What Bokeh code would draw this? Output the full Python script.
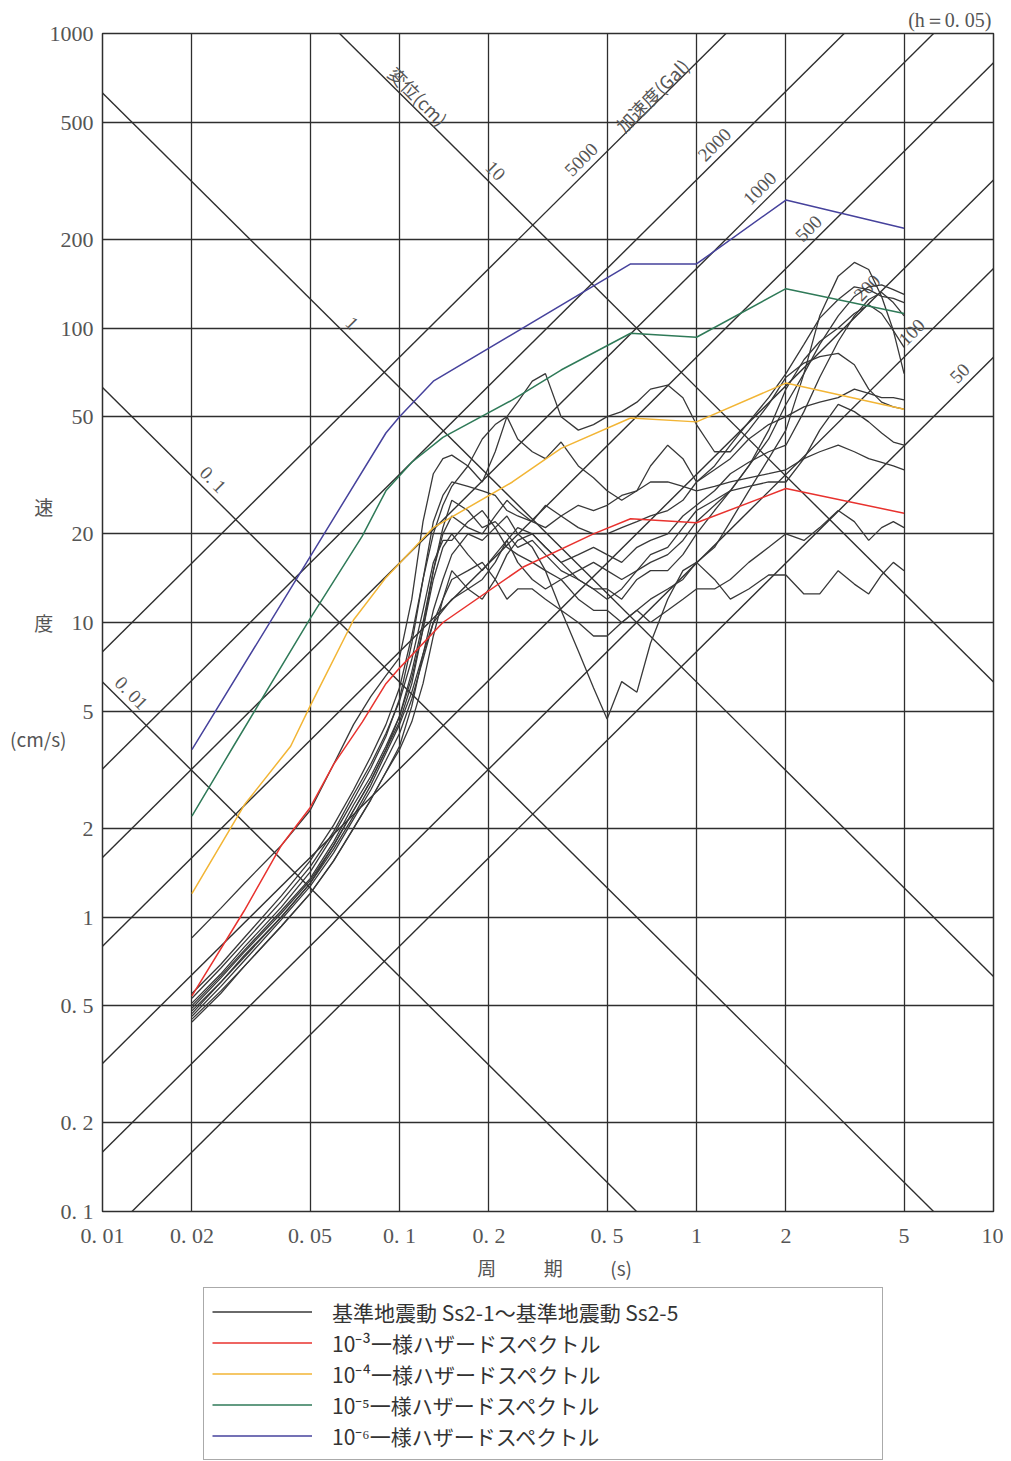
import math
from bokeh.plotting import figure
from bokeh.models import FixedTicker, Legend, LegendItem
from bokeh.layouts import column
from bokeh.embed import file_html
from bokeh.resources import INLINE
from bokeh.core.properties import value

# ---------------- axis ticks ----------------
period_ticks = [0.01, 0.02, 0.05, 0.1, 0.2, 0.5, 1, 2, 5, 10]
period_tick_labels = ["0. 01", "0. 02", "0. 05", "0. 1", "0. 2", "0. 5", "1", "2", "5", "10"]
vel_ticks = [0.1, 0.2, 0.5, 1, 2, 5, 10, 20, 50, 100, 200, 500, 1000]
vel_tick_labels = ["0. 1", "0. 2", "0. 5", "1", "2", "5", "10", "20", "50", "100", "200", "500", "1000"]

# ---------------- tripartite grid ----------------
disp_lines_cm = [0.01, 0.1, 1, 10]
disp_label_text = ["0. 01", "0. 1", "1", "10"]
disp_label_T = [0.01168, 0.0220, 0.0647, 0.1966]
acc_lines_gal = [50, 100, 200, 500, 1000, 2000, 5000]
acc_label_text = ["50", "100", "200", "500", "1000", "2000", "5000"]
acc_label_T = [8.24, 5.68, 4.02, 2.555, 1.748, 1.231, 0.438]

# ---------------- uniform hazard spectra ----------------
uhs3_T = [0.02, 0.03, 0.04, 0.05, 0.06, 0.075, 0.09, 0.1, 0.14, 0.26, 0.45, 0.6, 1.0, 2.0, 5.0]
uhs3_v = [0.54, 1.05, 1.75, 2.35, 3.3, 4.6, 6.2, 7.0, 10.0, 15.4, 20.0, 22.5, 21.8, 28.5, 23.5]
uhs4_T = [0.02, 0.03, 0.043, 0.05, 0.07, 0.09, 0.13, 0.24, 0.35, 0.6, 1.0, 2.0, 5.0]
uhs4_v = [1.2, 2.4, 3.8, 5.2, 10.2, 14.2, 21.0, 30.0, 39.0, 49.5, 48.0, 65.0, 53.0]
uhs5_T = [0.02, 0.0276, 0.05, 0.075, 0.09, 0.11, 0.14, 0.24, 0.35, 0.6, 1.0, 2.0, 5.0]
uhs5_v = [2.2, 3.8, 10.3, 19.7, 28.0, 35.0, 42.5, 57.0, 72.0, 96.0, 93.0, 136.0, 112.0]
uhs6_T = [0.02, 0.09, 0.1, 0.13, 0.6, 1.0, 2.0, 5.0]
uhs6_v = [3.7, 44.0, 50.0, 66.0, 165.0, 165.0, 272.0, 218.0]

# ---------------- design ground motions Ss2-1 .. Ss2-5 ----------------
ss_T = [0.02, 0.025, 0.03, 0.04, 0.05, 0.06, 0.07, 0.08, 0.09, 0.10,
        0.11, 0.12, 0.13, 0.14, 0.15, 0.17, 0.19, 0.21, 0.23, 0.25,
        0.28, 0.31, 0.35, 0.40, 0.45, 0.50, 0.56, 0.63, 0.70, 0.80,
        0.90, 1.0, 1.15, 1.3, 1.5, 1.75, 2.0, 2.3, 2.6, 3.0,
        3.4, 3.8, 4.2, 4.6, 5.0]
ss_h1 = [0.50, 0.63, 0.77, 1.05, 1.35, 1.8, 2.4, 3.0, 3.8, 4.8,
         6.5, 9.5, 14, 18, 20, 17, 15, 17, 19, 16,
         14, 13, 14, 12, 11, 11, 10, 11, 12, 13,
         14, 16, 18, 22, 28, 36, 45, 70, 110, 150,
         167, 158, 128, 98, 70]
ss_h2 = [0.47, 0.60, 0.73, 1.0, 1.3, 1.75, 2.3, 2.9, 3.7, 4.6,
         6.2, 9.5, 15, 21, 26, 24, 21, 22, 20, 18,
         19, 17, 15, 14, 13, 13, 12, 14, 15, 15,
         17, 20, 24, 28, 34, 42, 55, 70, 88, 110,
         128, 138, 140, 135, 130]
ss_h3 = [0.45, 0.56, 0.68, 0.93, 1.2, 1.55, 2.0, 2.5, 3.1, 3.7,
         4.6, 6.2, 9, 12, 15, 13, 12, 14, 17, 19,
         20, 18, 16, 17, 18, 17, 16, 18, 19, 20,
         23, 25, 28, 32, 35, 38, 40, 52, 68, 90,
         110, 125, 132, 122, 110]
ss_h4 = [0.53, 0.67, 0.82, 1.13, 1.48, 1.95, 2.6, 3.3, 4.2, 5.4,
         7.5, 11, 16, 19, 19, 22, 24, 21, 18, 17,
         16, 15, 14, 15, 16, 15, 14, 15, 16, 17,
         19, 22, 25, 28, 34, 45, 62, 78, 90, 100,
         112, 120, 112, 98, 86]
ss_h5 = [0.85, 1.07, 1.30, 1.75, 2.3, 3.3, 4.5, 5.6, 6.6, 7.6,
         12, 22, 32, 36, 37, 34, 30, 38, 50, 56,
         66, 70, 50, 45, 47, 50, 52, 56, 62, 64,
         58, 47, 38, 38, 45, 55, 68, 76, 80, 82,
         75, 62, 56, 54, 53]
ss_h6 = [0.49, 0.62, 0.76, 1.03, 1.33, 1.75, 2.3, 2.9, 3.7, 4.8,
         6.8, 10, 15, 20, 23, 21, 20, 23, 26, 24,
         22, 25, 23, 21, 20, 20, 21, 22, 23, 24,
         26, 30, 34, 40, 48, 58, 70, 88, 108, 125,
         138, 135, 128, 126, 122]
ss_v1 = [0.44, 0.55, 0.68, 0.93, 1.2, 1.55, 2.0, 2.5, 3.1, 3.8,
         5.2, 7.8, 11, 14, 17, 20, 19, 21, 23, 20,
         18, 15, 11, 8, 6, 4.7, 6.3, 5.8, 8.5, 12,
         15, 16, 14, 12, 13, 14.5, 14.5, 12.5, 12.5, 15,
         13.5, 12.5, 14.5, 16, 15]
ss_v2 = [0.46, 0.58, 0.71, 0.98, 1.27, 1.65, 2.15, 2.7, 3.4, 4.2,
         5.5, 7.5, 10, 12, 14, 15, 16, 14, 12, 13,
         13, 12, 11, 10, 9, 9, 10, 11, 10, 11,
         12, 13, 13, 14, 16, 18, 20, 19, 21, 24,
         22, 19, 21, 22, 21]
ss_v3 = [0.51, 0.64, 0.79, 1.08, 1.42, 1.9, 2.5, 3.2, 4.1, 5.5,
         8.5, 14, 22, 27, 30, 29, 28, 27, 24, 23,
         22, 21, 23, 25, 24, 25, 27, 28, 30, 30,
         29, 28, 29, 30, 31, 32, 33, 36, 38, 40,
         38, 36, 35, 34, 33]
ss_v4 = [0.48, 0.60, 0.74, 1.0, 1.3, 1.7, 2.2, 2.8, 3.6, 4.5,
         5.8, 7.8, 10, 11, 12, 13, 14, 16, 19, 21,
         20, 18, 16, 14, 13, 12, 13, 15, 17, 18,
         21, 24, 26, 28, 29, 30, 30, 36, 45, 55,
         52, 48, 44, 41, 40]
ss_v5 = [0.55, 0.69, 0.85, 1.18, 1.55, 2.05, 2.7, 3.5, 4.5, 6.0,
         9, 14, 20, 25, 29, 34, 42, 47, 50, 42,
         38, 36, 41, 34, 31, 28, 26, 28, 34, 40,
         36, 30, 33, 36, 42, 47, 50, 54, 56, 58,
         62, 60, 58, 58, 57]
ss_curves = [ss_h1, ss_h2, ss_h3, ss_h4, ss_h5, ss_h6, ss_v1, ss_v2, ss_v3, ss_v4, ss_v5]

legend_labels = ["基準地震動 Ss2-1～基準地震動 Ss2-5",
                 "10⁻³一様ハザードスペクトル",
                 "10⁻⁴一様ハザードスペクトル",
                 "10⁻⁵一様ハザードスペクトル",
                 "10⁻⁶一様ハザードスペクトル"]

# ---------------- styles ----------------
GRID = "#2e2e2e"
TXT = "#555555"
C_SS = "#383838"
C_R = "#e8322e"
C_O = "#f2b535"
C_G = "#2f7a58"
C_B = "#46429c"
SERIF = "Liberation Serif"
CJK = "Noto Sans CJK JP"
TWO_PI = 2 * math.pi

p = figure(width=1003, height=1287, x_axis_type="log", y_axis_type="log",
           x_range=(0.01, 10), y_range=(0.1, 1000),
           toolbar_location=None, output_backend="svg",
           min_border_left=102, min_border_right=10, min_border_top=33, min_border_bottom=76)
p.background_fill_color = "white"
p.border_fill_color = "white"
p.outline_line_color = GRID
p.outline_line_width = 1.5

p.title.text = "(h＝0. 05)"
p.title.align = "right"
p.title.offset = 2
p.title.text_font = SERIF
p.title.text_font_style = "normal"
p.title.text_font_size = "20px"
p.title.text_color = TXT
p.title.standoff = 6

p.xaxis.ticker = FixedTicker(ticks=period_ticks, minor_ticks=[])
p.yaxis.ticker = FixedTicker(ticks=vel_ticks, minor_ticks=[])
p.xaxis.major_label_overrides = {t: s for t, s in zip(period_ticks, period_tick_labels)}
p.yaxis.major_label_overrides = {t: s for t, s in zip(vel_ticks, vel_tick_labels)}
for ax in (p.xaxis, p.yaxis):
    ax.major_tick_out = 0
    ax.major_tick_in = 0
    ax.minor_tick_out = 0
    ax.minor_tick_in = 0
    ax.axis_line_color = GRID
    ax.major_label_text_font = SERIF
    ax.major_label_text_font_size = "22px"
    ax.major_label_text_color = TXT
    ax.axis_label_text_font = CJK
    ax.axis_label_text_font_style = "normal"
    ax.axis_label_text_font_size = "19px"
    ax.axis_label_text_color = TXT
p.xaxis.major_label_standoff = 11
p.yaxis.major_label_standoff = 9
p.xaxis.axis_label = "\u2002\u2009周\u3000\u3000\u2002期\u3000\u3000\u2002(s)"
p.xaxis.axis_label_standoff = 3
p.yaxis.axis_label = "速\u2002\u2009\n\n\n\n\n度\u2002\u2009\n\n\n\n\n(cm/s)"
p.yaxis.axis_label_orientation = "horizontal"
p.yaxis.axis_label_text_line_height = 0.86
p.yaxis.axis_label_standoff = -20
p.grid.grid_line_color = GRID
p.grid.grid_line_alpha = 1.0
p.grid.grid_line_width = 1.3

# displacement lines (v = 2*pi*d/T) and acceleration lines (v = a*T/(2*pi))
T_end = [0.01, 10]
p.multi_line(xs=[T_end] * len(disp_lines_cm),
             ys=[[TWO_PI * d / t for t in T_end] for d in disp_lines_cm],
             line_color=GRID, line_width=1.4)
p.multi_line(xs=[T_end] * len(acc_lines_gal),
             ys=[[a * t / TWO_PI for t in T_end] for a in acc_lines_gal],
             line_color=GRID, line_width=1.4)

# labels along diagonal lines (shifted perpendicular in log space)
dl = 0.03
dx = [t * 10 ** dl for t in disp_label_T]
dy = [TWO_PI * d / t * 10 ** dl for d, t in zip(disp_lines_cm, disp_label_T)]
p.text(x=dx, y=dy, text=disp_label_text, angle=-math.pi / 4,
       text_font=value(SERIF), text_font_size="19px", text_color=TXT,
       text_align="center", text_baseline="middle")
ax_ = [t * 10 ** -dl for t in acc_label_T]
ay_ = [a * t / TWO_PI * 10 ** dl for a, t in zip(acc_lines_gal, acc_label_T)]
p.text(x=ax_, y=ay_, text=acc_label_text, angle=math.pi / 4,
       text_font=value(SERIF), text_font_size="19px", text_color=TXT,
       text_align="center", text_baseline="middle")
# "変位(cm)" on the 10 cm line, "加速度(Gal)" on the 5000 Gal line
t_d, d_d = 0.1088, disp_lines_cm[-1]
p.text(x=[t_d * 10 ** 0.027], y=[TWO_PI * d_d / t_d * 10 ** 0.027], text=["変位(cm)"],
       angle=-math.pi / 4, text_font=value(CJK), text_font_size="18px", text_color=TXT,
       text_align="center", text_baseline="middle")
t_a, a_a = 0.741, acc_lines_gal[-1]
p.text(x=[t_a * 10 ** -0.02], y=[a_a * t_a / TWO_PI * 10 ** 0.02], text=["加速度(Gal)"],
       angle=math.pi / 4, text_font=value(CJK), text_font_size="18px", text_color=TXT,
       text_align="center", text_baseline="middle")

# design ground motions
p.multi_line(xs=[ss_T] * len(ss_curves), ys=ss_curves, line_color=C_SS, line_width=1.3)
# hazard spectra
p.line(uhs3_T, uhs3_v, line_color=C_R, line_width=1.5)
p.line(uhs4_T, uhs4_v, line_color=C_O, line_width=1.5)
p.line(uhs5_T, uhs5_v, line_color=C_G, line_width=1.5)
p.line(uhs6_T, uhs6_v, line_color=C_B, line_width=1.5)

# ---------------- legend panel ----------------
p2 = figure(width=1003, height=173, x_range=(0, 1), y_range=(0, 1),
            toolbar_location=None, output_backend="svg", min_border=0)
p2.axis.visible = False
p2.grid.visible = False
p2.outline_line_color = None
p2.background_fill_color = "white"
p2.border_fill_color = "white"
leg_colors = [C_SS, C_R, C_O, C_G, C_B]
items = []
for lab, col in zip(legend_labels, leg_colors):
    # sample renderers kept outside the visible range; only their legend glyph shows
    r = p2.line(x=[5, 6], y=[5, 6], line_color=col, line_width=1.5)
    items.append(LegendItem(label=lab, renderers=[r]))
legend = Legend(items=items, location=(101, 0), orientation="vertical",
                glyph_width=100, glyph_height=31, label_height=31, label_width=542,
                label_standoff=20, spacing=0, padding=8, margin=0,
                label_text_font=CJK, label_text_font_size="21px", label_text_color="#333333",
                border_line_color="#555555", border_line_width=1.5,
                background_fill_color="white", background_fill_alpha=1.0)
p2.add_layout(legend, "center")

layout = column(p, p2, spacing=0)
open("out.html", "w").write(file_html(layout, INLINE))
